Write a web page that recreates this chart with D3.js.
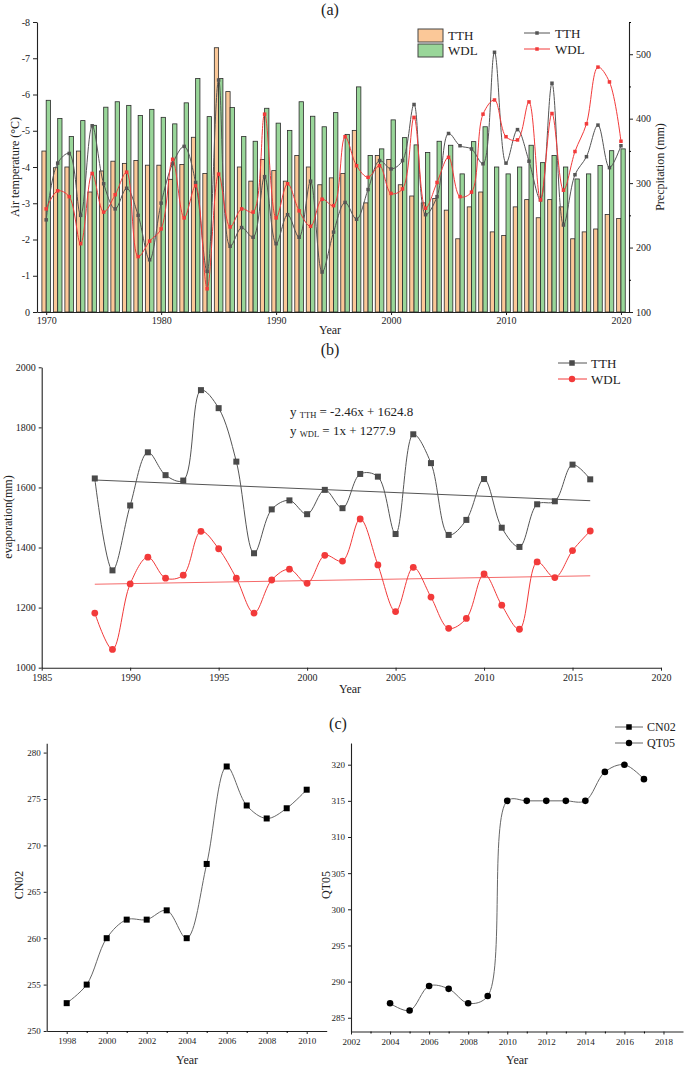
<!DOCTYPE html>
<html>
<head>
<meta charset="utf-8">
<script src="https://cdn.jsdelivr.net/npm/d3@7"></script>
<style>
  body { margin: 0; background: #fff; }
  svg text { font-family: "Liberation Serif", "Times New Roman", serif; fill: #222; }
</style>
</head>
<body>
<svg id="chart" width="685" height="1066"></svg>
<script>
/*global d3*/
// ---- panel (a): air temperature bars + precipitation lines, 1970-2020
const yearStart = 1970, yearEnd = 2020
const tthTemp = [-4.44, -3.98, -4.00, -4.44, -3.31, -3.89, -4.16, -4.10, -4.18, -4.05, -4.05, -3.66, -4.07, -4.82, -3.82, -7.29, -6.08,
  -4.00, -3.61, -4.21, -3.90, -3.61, -4.32, -4.00, -3.51, -3.70, -3.82, -5.01, -3.01, -4.32, -4.21, -3.51, -3.20, -3.01, -3.13,
  -2.81, -2.02, -2.90, -3.31, -2.21, -2.11, -2.90, -3.10, -2.60, -3.10, -2.90, -2.02, -2.21, -2.29, -2.69, -2.58]
const wdlTemp = [-5.84, -5.34, -4.84, -5.28, -5.15, -5.65, -5.80, -5.70, -5.42, -5.59, -5.37, -5.19, -5.77, -6.44, -5.39, -6.44, -5.64,
  -4.84, -4.71, -5.62, -5.21, -5.01, -5.80, -5.40, -5.11, -5.50, -4.90, -6.21, -4.32, -4.50, -5.30, -4.81, -4.61, -4.40, -4.71,
  -4.60, -3.81, -4.70, -5.11, -4.00, -3.81, -4.00, -4.60, -4.12, -4.32, -4.00, -3.67, -3.81, -4.04, -4.45, -4.50]
const tthPre = [243, 331, 346, 250, 389, 299, 260, 292, 250, 181, 269, 330, 357, 301, 163, 460, 202,
  231, 216, 310, 206, 251, 216, 303, 162, 224, 270, 244, 290, 335, 322, 335, 422, 251, 279,
  377, 358, 353, 330, 503, 331, 383, 334, 274, 455, 235, 313, 341, 390, 324, 358]
const wdlPre = [260, 288, 279, 206, 315, 255, 282, 317, 186, 210, 229, 337, 246, 296, 136, 314, 232,
  260, 255, 407, 246, 299, 257, 233, 275, 265, 372, 327, 309, 327, 284, 291, 402, 261, 301,
  340, 279, 286, 407, 429, 372, 367, 426, 274, 408, 289, 349, 392, 480, 457, 365]
const tempTicks = [0, -1, -2, -3, -4, -5, -6, -7, -8]
const preTicks = [100, 200, 300, 400, 500]
const preMinor = [150, 250, 350, 450, 550]
const yearTicksA = [1970, 1980, 1990, 2000, 2010, 2020]

// ---- panel (b): evaporation 1988-2016
const evapStart = 1988
const tthEvap = [1630, 1324, 1540, 1717, 1641, 1623, 1924, 1864, 1686, 1381, 1527, 1557, 1511, 1592, 1531,
  1645, 1636, 1445, 1777, 1681, 1442, 1492, 1628, 1466, 1402, 1544, 1554, 1676, 1627]
const wdlEvap = [1182, 1061, 1279, 1368, 1298, 1308, 1454, 1396, 1298, 1182, 1292, 1328, 1281, 1374, 1355,
  1495, 1342, 1187, 1334, 1235, 1131, 1164, 1312, 1208, 1128, 1352, 1300, 1390, 1455]
const trendSlope = [-2.46, 1]
const trendIntercept = [1624.8, 1277.9]
const evapTicks = [1000, 1200, 1400, 1600, 1800, 2000]
const yearTicksB = [1985, 1990, 1995, 2000, 2005, 2010, 2015, 2020]

// ---- panel (c): CN02 and QT05
const cnYears = [1998, 1999, 2000, 2001, 2002, 2003, 2004, 2005, 2006, 2007, 2008, 2009, 2010]
const cn02 = [253, 255, 260, 262, 262, 263, 260, 268, 278.5, 274.3, 272.9, 274, 276]
const qtYears = [2004, 2005, 2006, 2007, 2008, 2009, 2010, 2011, 2012, 2013, 2014, 2015, 2016, 2017]
const qt05 = [287, 286, 289.4, 289, 287, 288, 315, 315, 315, 315, 315, 319, 320, 318]
const cnTicks = [250, 255, 260, 265, 270, 275, 280]
const qtTicks = [285, 290, 295, 300, 305, 310, 315, 320]

const svg = d3.select("#chart")

function styleAxis(g, size) {
  g.attr("font-size", size)
  g.select(".domain").attr("stroke", "#222").attr("stroke-width", 1.1)
  g.selectAll(".tick line").attr("stroke", "#222")
  g.selectAll(".tick text").attr("fill", "#222")
}

function label(x, y, txt, size, rotate, anchor) {
  const t = svg.append("text")
    .attr("x", x).attr("y", y)
    .attr("font-size", size)
    .attr("text-anchor", anchor || "middle")
    .text(txt)
  if (rotate) t.attr("transform", `rotate(${rotate},${x},${y})`)
  return t
}

function squares(g, pts, size, color) {
  g.selectAll(null).data(pts).join("rect")
    .attr("x", d => d[0] - size / 2)
    .attr("y", d => d[1] - size / 2)
    .attr("width", size).attr("height", size)
    .attr("fill", color)
}
function circles(g, pts, r, color) {
  g.selectAll(null).data(pts).join("circle")
    .attr("cx", d => d[0]).attr("cy", d => d[1]).attr("r", r)
    .attr("fill", color)
}

// ================= (a)
const years = d3.range(yearStart, yearEnd + 1)
const xA = d3.scaleLinear().domain([1969.2, 2020.7]).range([37, 629])
const yT = d3.scaleLinear().domain([0, -8]).range([312, 22])
const yP = d3.scaleLinear().domain([100, 550]).range([312, 22])
const bw = 4.3

const gA = svg.append("g")
gA.append("g").selectAll("rect").data(years).join("rect")
  .attr("x", d => xA(d) - bw)
  .attr("y", (d, i) => yT(tthTemp[i]))
  .attr("width", bw)
  .attr("height", (d, i) => yT(0) - yT(tthTemp[i]))
  .attr("fill", "#fbc898").attr("stroke", "#2a2a2a").attr("stroke-width", 0.8)
gA.append("g").selectAll("rect").data(years).join("rect")
  .attr("x", d => xA(d))
  .attr("y", (d, i) => yT(wdlTemp[i]))
  .attr("width", bw)
  .attr("height", (d, i) => yT(0) - yT(wdlTemp[i]))
  .attr("fill", "#99d699").attr("stroke", "#2a2a2a").attr("stroke-width", 0.8)

const lineA = d3.line().curve(d3.curveCatmullRom)
const tthPts = years.map((d, i) => [xA(d), yP(tthPre[i])])
const wdlPts = years.map((d, i) => [xA(d), yP(wdlPre[i])])
gA.append("path").attr("d", lineA(tthPts)).attr("fill", "none").attr("stroke", "#555").attr("stroke-width", 1)
squares(gA.append("g"), tthPts, 3.5, "#555")
gA.append("path").attr("d", lineA(wdlPts)).attr("fill", "none").attr("stroke", "#f23a3a").attr("stroke-width", 1)
squares(gA.append("g"), wdlPts, 3.5, "#f23a3a")

gA.append("g").attr("transform", "translate(37,0)")
  .call(d3.axisLeft(yT).tickValues(tempTicks).tickFormat(d => String(d)).tickSize(4).tickPadding(3).tickSizeOuter(0))
  .call(styleAxis, 10)
gA.append("g").attr("transform", "translate(629,0)")
  .call(d3.axisRight(yP).tickValues(preTicks).tickSize(4).tickPadding(3).tickSizeOuter(0))
  .call(styleAxis, 10)
gA.append("g").attr("transform", "translate(629,0)")
  .call(d3.axisRight(yP).tickValues(preMinor).tickSize(2).tickFormat("").tickSizeOuter(0))
  .call(g => g.select(".domain").remove())
gA.append("g").attr("transform", "translate(0,312)")
  .call(d3.axisBottom(xA).tickValues(yearTicksA).tickFormat(d3.format("d")).tickSize(3).tickPadding(2).tickSizeOuter(0))
  .call(styleAxis, 10)

label(330, 15, "(a)", 16)
label(330, 334, "Year", 12)
label(19, 167, "Air temperature (\u00B0C)", 12, -90)
label(664, 167, "Precpitation (mm)", 12, -90)

// legend (a)
gA.append("rect").attr("x", 418).attr("y", 29).attr("width", 25).attr("height", 13)
  .attr("fill", "#fbc898").attr("stroke", "#444")
gA.append("rect").attr("x", 418).attr("y", 44).attr("width", 25).attr("height", 13)
  .attr("fill", "#99d699").attr("stroke", "#444")
label(448, 40, "TTH", 13, 0, "start")
label(448, 55, "WDL", 13, 0, "start")
gA.append("line").attr("x1", 524).attr("x2", 550).attr("y1", 33).attr("y2", 33).attr("stroke", "#555")
squares(gA.append("g"), [[537, 33]], 3.5, "#555")
gA.append("line").attr("x1", 524).attr("x2", 550).attr("y1", 49).attr("y2", 49).attr("stroke", "#f23a3a")
squares(gA.append("g"), [[537, 49]], 3.5, "#f23a3a")
label(555, 38, "TTH", 13, 0, "start")
label(555, 54, "WDL", 13, 0, "start")

// ================= (b)
const evapYears = tthEvap.map((d, i) => evapStart + i)
const xB = d3.scaleLinear().domain([1985, 2020]).range([41.7, 661])
const yB = d3.scaleLinear().domain([1000, 2000]).range([667.7, 367.3])
const gB = svg.append("g")
const lineB = d3.line().curve(d3.curveCatmullRom)
const tthB = evapYears.map((d, i) => [xB(d), yB(tthEvap[i])])
const wdlB = evapYears.map((d, i) => [xB(d), yB(wdlEvap[i])])

const trendColors = ["#555", "#f56a6a"]
trendSlope.forEach((s, k) => {
  const x0 = evapYears[0], x1 = evapYears[evapYears.length - 1]
  gB.append("line")
    .attr("x1", xB(x0)).attr("y1", yB(trendIntercept[k]))
    .attr("x2", xB(x1)).attr("y2", yB(trendIntercept[k] + s * (x1 - x0)))
    .attr("stroke", trendColors[k]).attr("stroke-width", 1)
})
gB.append("path").attr("d", lineB(tthB)).attr("fill", "none").attr("stroke", "#555").attr("stroke-width", 1)
squares(gB.append("g"), tthB, 6, "#4a4a4a")
gB.append("path").attr("d", lineB(wdlB)).attr("fill", "none").attr("stroke", "#f23a3a").attr("stroke-width", 1)
circles(gB.append("g"), wdlB, 3.4, "#f23a3a")

gB.append("g").attr("transform", "translate(41.7,0)")
  .call(d3.axisLeft(yB).tickValues(evapTicks).tickFormat(d3.format("d")).tickSize(3).tickPadding(3).tickSizeOuter(0))
  .call(styleAxis, 10)
gB.append("g").attr("transform", "translate(0,667.7)")
  .call(d3.axisBottom(xB).tickValues(yearTicksB).tickFormat(d3.format("d")).tickSize(3).tickPadding(3).tickSizeOuter(0))
  .call(styleAxis, 10)

label(330, 355, "(b)", 16)
label(350, 693, "Year", 12)
label(12, 517, "evaporation(mm)", 12, -90)

const eqNames = ["TTH", "WDL"]
const eqText = [" = -2.46x + 1624.8", " = 1x + 1277.9"]
eqNames.forEach((n, k) => {
  const t = gB.append("text").attr("x", 290).attr("y", 416 + k * 19).attr("font-size", 13)
  t.append("tspan").text("y ")
  t.append("tspan").attr("font-size", 8.5).attr("dy", 2).text(n)
  t.append("tspan").attr("dy", -2).text(eqText[k])
})

gB.append("line").attr("x1", 558).attr("x2", 587).attr("y1", 363).attr("y2", 363).attr("stroke", "#555")
squares(gB.append("g"), [[572, 363]], 5.5, "#4a4a4a")
gB.append("line").attr("x1", 558).attr("x2", 587).attr("y1", 379).attr("y2", 379).attr("stroke", "#f23a3a")
circles(gB.append("g"), [[572, 379]], 3.2, "#f23a3a")
label(591, 367.5, "TTH", 13, 0, "start")
label(591, 383.5, "WDL", 13, 0, "start")

// ================= (c)
const gC = svg.append("g")
const xC1 = d3.scaleLinear().domain([1997, 2011]).range([46.7, 326.7])
const yC1 = d3.scaleLinear().domain([250, 281]).range([1031, 743.3])
const xC2 = d3.scaleLinear().domain([2002, 2019]).range([351, 683])
const yC2 = d3.scaleLinear().domain([283.1, 323]).range([1031.5, 743])
const lineC = d3.line().curve(d3.curveCatmullRom)

const cnPts = cnYears.map((d, i) => [xC1(d), yC1(cn02[i])])
gC.append("path").attr("d", lineC(cnPts)).attr("fill", "none").attr("stroke", "#666").attr("stroke-width", 1)
squares(gC.append("g"), cnPts, 6, "#000")
const qtPts = qtYears.map((d, i) => [xC2(d), yC2(qt05[i])])
gC.append("path").attr("d", lineC(qtPts)).attr("fill", "none").attr("stroke", "#666").attr("stroke-width", 1)
circles(gC.append("g"), qtPts, 3.3, "#000")

gC.append("g").attr("transform", "translate(46.7,0)")
  .call(d3.axisLeft(yC1).tickValues(cnTicks).tickSize(3).tickPadding(3).tickSizeOuter(0))
  .call(styleAxis, 9)
gC.append("g").attr("transform", "translate(0,1031)")
  .call(d3.axisBottom(xC1).tickValues(d3.range(1998, 2011, 2)).tickFormat(d3.format("d")).tickSize(3).tickPadding(4).tickSizeOuter(0))
  .call(styleAxis, 9)
gC.append("g").attr("transform", "translate(0,1031)")
  .call(d3.axisBottom(xC1).tickValues(d3.range(1999, 2011, 2)).tickFormat("").tickSize(2).tickSizeOuter(0))
  .call(g => g.select(".domain").remove())

gC.append("g").attr("transform", "translate(351,0)")
  .call(d3.axisLeft(yC2).tickValues(qtTicks).tickSize(3).tickPadding(3).tickSizeOuter(0))
  .call(styleAxis, 9)
gC.append("g").attr("transform", "translate(0,1031.5)")
  .call(d3.axisBottom(xC2).tickValues(d3.range(2002, 2019, 2)).tickFormat(d3.format("d")).tickSize(3).tickPadding(4).tickSizeOuter(0))
  .call(styleAxis, 9)
gC.append("g").attr("transform", "translate(0,1031.5)")
  .call(d3.axisBottom(xC2).tickValues(d3.range(2003, 2019, 2)).tickFormat("").tickSize(2).tickSizeOuter(0))
  .call(g => g.select(".domain").remove())

label(338, 729, "(c)", 16)
label(187, 1064, "Year", 12)
label(517, 1064, "Year", 12)
label(23, 885, "CN02", 12, -90)
label(330, 885, "QT05", 12, -90)

gC.append("line").attr("x1", 615).attr("x2", 643).attr("y1", 727).attr("y2", 727).attr("stroke", "#666")
squares(gC.append("g"), [[629, 727]], 5.5, "#000")
gC.append("line").attr("x1", 615).attr("x2", 643).attr("y1", 743).attr("y2", 743).attr("stroke", "#666")
circles(gC.append("g"), [[629, 743]], 3.2, "#000")
label(647, 731, "CN02", 12, 0, "start")
label(647, 747, "QT05", 12, 0, "start")
</script>
</body>
</html>
